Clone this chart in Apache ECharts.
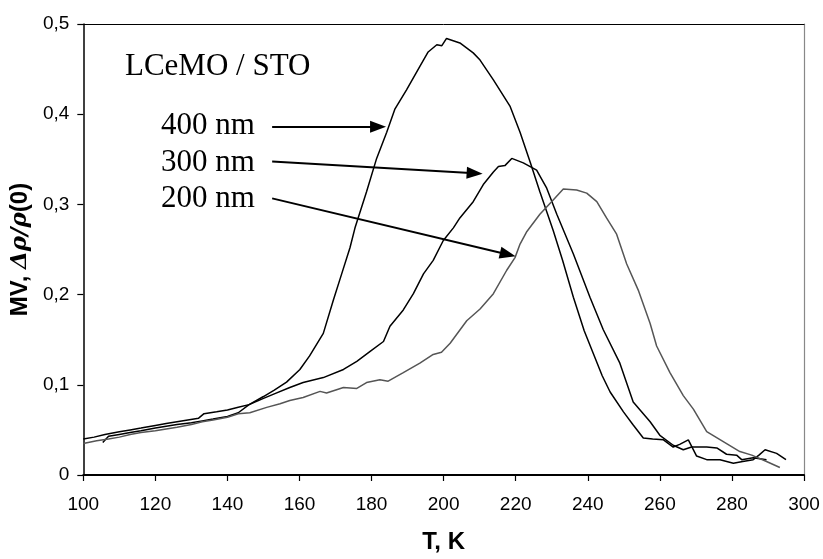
<!DOCTYPE html>
<html>
<head>
<meta charset="utf-8">
<script src="https://cdn.jsdelivr.net/npm/echarts@6/dist/echarts.min.js"></script>
<style>html,body{margin:0;padding:0;background:#fff}#c{width:823px;height:559px}</style>
</head>
<body>
<div id="c"></div>
<script>
// ---- data ----
var T400 = [105.4,107,110,113,116,120,123,126,130,133,136,140,143,146,150,153,156.4,160.1,162.8,166.6,169.4,171.7,174,175.4,178.6,181.4,184.2,186.5,189.7,193.4,195.7,198.1,199.5,200.8,204.5,208.2,210.1,213.8,218.4,221.2,224,226.7,230.4,233,236,239,241.5,244,246.2,249.9,252.5,255.4,258,261,263.7,265.5,267.9,270.2,273,276.7,280.4,283,285.9,287.5,289.2,292.4,295];
var V400 = [0.036,0.043,0.045,0.047,0.049,0.052,0.054,0.056,0.058,0.060,0.062,0.065,0.069,0.078,0.087,0.094,0.103,0.117,0.132,0.157,0.194,0.223,0.252,0.274,0.314,0.351,0.380,0.406,0.427,0.453,0.469,0.477,0.476,0.484,0.479,0.468,0.460,0.438,0.409,0.380,0.347,0.314,0.271,0.238,0.197,0.160,0.135,0.110,0.092,0.070,0.056,0.041,0.040,0.039,0.031,0.034,0.039,0.021,0.017,0.0168,0.013,0.015,0.017,0.022,0.028,0.024,0.017];

var T300 = [100,103,106,110,113,116,120,123,126,129,132,133.5,137,140,143,146,150,153,157.3,161,166.6,172.2,175.9,179.6,183.3,185.1,188.8,191.6,194.4,197.1,199.9,202.7,204.5,208.2,211,213.8,215.2,217,218.9,222.1,225.8,228.6,231.4,236,240.6,244.3,248.9,252.6,257.3,260,263.7,266.5,268.8,273,275.8,278.5,281.3,282.7,285.9,289.6];
var V300 = [0.040,0.042,0.045,0.048,0.050,0.052,0.055,0.057,0.059,0.061,0.063,0.068,0.070,0.072,0.075,0.078,0.085,0.090,0.097,0.1025,0.108,0.117,0.126,0.137,0.148,0.165,0.183,0.201,0.223,0.238,0.260,0.274,0.285,0.303,0.322,0.336,0.342,0.343,0.351,0.346,0.338,0.318,0.289,0.245,0.197,0.161,0.124,0.081,0.059,0.044,0.033,0.028,0.031,0.031,0.030,0.023,0.022,0.017,0.019,0.017];

var T200 = [100,103.7,107,110,113,116,120,123,126,130,133,136,140,143,146.2,150.9,154.6,157.3,161,165.7,167.5,172.2,175.9,178.6,182.3,184.6,188.8,193.4,197.1,199.4,201.8,206.4,210.1,213.8,217.5,219.8,221.2,223.1,226.7,230.4,233.2,236.9,239.7,242.5,245.2,248,250.8,254,257.3,259.1,262.8,266.5,269.3,273,277.6,282.2,285.5,289.6,293.3];
var V200 = [0.035,0.038,0.040,0.042,0.045,0.047,0.049,0.051,0.053,0.056,0.059,0.061,0.064,0.068,0.069,0.075,0.079,0.0825,0.086,0.0927,0.091,0.097,0.096,0.1025,0.1055,0.104,0.1135,0.124,0.1336,0.136,0.146,0.171,0.184,0.201,0.227,0.241,0.256,0.270,0.289,0.305,0.317,0.316,0.3125,0.303,0.285,0.267,0.234,0.205,0.168,0.143,0.1135,0.088,0.073,0.048,0.037,0.026,0.022,0.015,0.0083];

var seriesNames = ['400 nm','300 nm','200 nm'];
// arrows: [T start, V start, T end, V end]
var arrow400 = [152.4,0.386,181.8,0.386];
var arrow300 = [152.4,0.3475,208.6,0.3345];
var arrow200 = [152.4,0.3067,217.8,0.2445];
var titleText = 'LCeMO / STO';

function zip(a,b){var r=[];for(var i=0;i<a.length;i++)r.push([a[i],b[i]]);return r;}
function arrowLine(a){return [{coord:[a[0],a[1]]},{coord:[a[2],a[3]]}];}

var chart = echarts.init(document.getElementById('c'), null, {renderer:'canvas'});
var sans = 'Liberation Sans, Arial, sans-serif';
var serif = 'Liberation Serif, Times New Roman, serif';
chart.setOption({
  animation:false,
  backgroundColor:'#fff',
  grid:{left:83,right:19,top:24,bottom:79,containLabel:false},
  xAxis:[{
    type:'value',min:100,max:300,interval:20,
    name:'T, K',nameLocation:'middle',nameGap:55,
    nameTextStyle:{fontFamily:sans,fontWeight:'bold',fontSize:24,color:'#000'},
    axisLine:{lineStyle:{color:'#000',width:2}},
    axisTick:{show:true,inside:false,length:6,lineStyle:{color:'#000',width:1.2}},
    axisLabel:{color:'#000',fontFamily:sans,fontSize:19,margin:20},
    splitLine:{show:false}
  },{
    type:'value',min:100,max:300,position:'top',
    axisLine:{show:true,onZero:false,lineStyle:{color:'#000',width:1}},
    axisTick:{show:false},axisLabel:{show:false},splitLine:{show:false}
  }],
  yAxis:[{
    type:'value',min:0,max:0.5,interval:0.1,
    name:'{b|MV, }{i|Δρ/ρ}{b|(0)}',nameLocation:'middle',nameGap:50,
    nameTextStyle:{rich:{
      b:{fontFamily:sans,fontWeight:'bold',fontSize:24,color:'#000'},
      i:{fontFamily:'DejaVu Serif, serif',fontStyle:'italic',fontWeight:'bold',fontSize:23,color:'#000'}
    }},
    axisLine:{show:true,lineStyle:{color:'#000',width:1.5}},
    axisTick:{show:true,inside:false,length:6,lineStyle:{color:'#000',width:1.2}},
    axisLabel:{color:'#000',fontFamily:sans,fontSize:19,margin:14,
      formatter:function(v){return v===0?'0':v.toFixed(1).replace('.',',');}},
    splitLine:{show:false}
  },{
    type:'value',min:0,max:0.5,position:'right',
    axisLine:{show:true,onZero:false,lineStyle:{color:'#888',width:1.2}},
    axisTick:{show:false},axisLabel:{show:false},splitLine:{show:false}
  }],
  series:[
    {name:seriesNames[0],type:'line',data:zip(T400,V400),showSymbol:false,symbol:'none',
     lineStyle:{color:'#000',width:1.5},itemStyle:{color:'#000'}},
    {name:seriesNames[1],type:'line',data:zip(T300,V300),showSymbol:false,symbol:'none',
     lineStyle:{color:'#000',width:1.5},itemStyle:{color:'#000'}},
    {name:seriesNames[2],type:'line',data:zip(T200,V200),showSymbol:false,symbol:'none',
     lineStyle:{color:'#555',width:1.5},itemStyle:{color:'#555'}},
    {type:'line',data:[],symbol:'none',
     markLine:{silent:true,symbol:['none','triangle'],symbolSize:[12,16],
       label:{show:false},lineStyle:{color:'#000',width:2,type:'solid'},
       emphasis:{disabled:true},
       data:[arrowLine(arrow400),arrowLine(arrow300),arrowLine(arrow200)]}}
  ],
  graphic:[
    {type:'text',left:125,top:51,style:{text:titleText,font:'31px '+serif,fill:'#000'}},
    {type:'text',left:161,top:110,style:{text:seriesNames[0],font:'31px '+serif,fill:'#000'}},
    {type:'text',left:161,top:147,style:{text:seriesNames[1],font:'31px '+serif,fill:'#000'}},
    {type:'text',left:161,top:183,style:{text:seriesNames[2],font:'31px '+serif,fill:'#000'}}
  ]
});
</script>
</body>
</html>
